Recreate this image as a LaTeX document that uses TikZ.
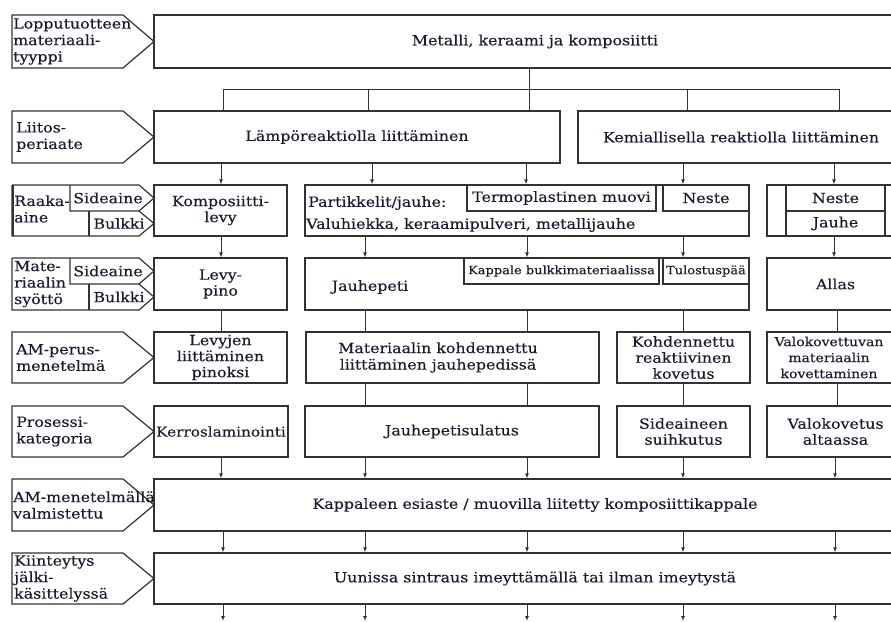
\documentclass[tikz,border=0pt]{standalone}
\usepackage{fontspec}
\setmainfont{DejaVu Serif}[FakeStretch=1.13, FakeBold=0.3]
\usetikzlibrary{arrows.meta}
\usetikzlibrary{positioning}

\definecolor{linec}{RGB}{50,50,50}
\definecolor{txtc}{RGB}{24,28,48}

\tikzset{
    box/.style={draw=linec, line width=1.2pt, inner sep=0pt, align=center,
        text=txtc, font=\fontsize{14}{16}\selectfont},
    smallbox/.style={box, font=\fontsize{11.5}{14}\selectfont},
    txt/.style={inner sep=0pt, align=left, text=txtc,
        font=\fontsize{14}{16.5}\selectfont},
    arr/.style={draw=linec, line width=1pt, -{Latex[length=5pt,width=4pt]}},
    conn/.style={draw=linec, line width=1pt},
    lbl/.style={draw=linec, line width=1.2pt}
}

\begin{document}
\begin{tikzpicture}[x=1pt, y=-1pt]
    \useasboundingbox (0,0) rectangle (891,621);
    \clip (0,0) rectangle (891,621);

    % left side labels
    \foreach \ya/\yb in {15/68, 111/163, 332/383, 406/457, 479/531, 553/604}
        \draw[lbl] (12,\ya) -- (123,\ya) -- (154,{(\ya+\yb)/2}) -- (123,\yb) -- (12,\yb) -- cycle;
    \foreach \ya/\ym/\yb in {185/211/236, 258/284/310} {
        \draw[lbl] (12,\ya) -- (139,\ya) -- (154,{(\ya+\ym)/2}) -- (139,\ym) -- (70,\ym) -- (70,\ya);
        \draw[lbl] (12,\ya) -- (12,\yb) -- (139,\yb) -- (154,{(\ym+\yb)/2}) -- (139,\ym);
        \draw[lbl] (89,\ym) -- (89,\yb);
    }
    \draw[lbl, line width=2pt] (12.5,185) -- (12.5,236);
    \node[txt, anchor=west] (l1) at (13,41.5) {Lopputuotteen\\materiaali-\\tyyppi};
    \node[txt, anchor=west] (l2) at (16,137) {Liitos-\\periaate};
    \node[txt, anchor=west] (l3) at (14,209) {Raaka-\\aine};
    \node[txt] (l3a) at (108,198) {Sideaine};
    \node[txt] (l3b) at (119,223.5) {Bulkki};
    \node[txt, anchor=west] (l4) at (14,284) {Mate-\\riaalin\\syöttö};
    \node[txt] (l4a) at (108,271) {Sideaine};
    \node[txt] (l4b) at (119,297) {Bulkki};
    \node[txt, anchor=west] (l5) at (16,357.5) {AM-perus-\\menetelmä};
    \node[txt, anchor=west] (l6) at (16,431.5) {Prosessi-\\kategoria};
    \node[txt, anchor=west] (l7) at (13,505) {AM-menetelmällä\\valmistettu};
    \node[txt, anchor=west] (l8) at (14,578.5) {Kiinteytys\\jälki-\\käsittelyssä};

    % boxes
    \node[box, minimum width=762pt, minimum height=53pt] (top) at (535,41.5) {Metalli, keraami ja komposiitti};
    \node[box, minimum width=406pt, minimum height=52pt] (lampo) at (357,137) {Lämpöreaktiolla liittäminen};
    \node[box, minimum width=326pt, minimum height=52pt] (kemia) at (741,137) {Kemiallisella reaktiolla liittäminen};

    \node[box, minimum width=133pt, minimum height=51pt] (komp) at (220.5,210.5) {Komposiitti-\\levy};
    \node[box, minimum width=444pt, minimum height=51pt] (part) at (527,210.5) {};
    \node[box, minimum width=189pt, minimum height=26pt] (termo) at (561.5,198) {Termoplastinen muovi};
    \node[box, minimum width=86pt, minimum height=26pt] (neste) at (706,198) {Neste};
    \node[txt, anchor=west] (parta) at (308,203) {Partikkelit/jauhe:};
    \node[txt, anchor=west] (partb) at (306,225) {Valuhiekka, keraamipulveri, metallijauhe};
    \node[box, minimum width=137pt, minimum height=51pt] (rcol) at (835.5,210.5) {};
    \node[box, minimum width=99pt, minimum height=26pt] (rneste) at (835.5,198) {Neste};
    \node[box, minimum width=99pt, minimum height=25pt] (rjauhe) at (835.5,223.5) {Jauhe};

    \node[box, minimum width=133pt, minimum height=52pt] (levy) at (220.5,284) {Levy-\\pino};
    \node[box, minimum width=444pt, minimum height=52pt] (jpeti) at (527,284) {};
    \node[txt] (jpetitxt) at (370,287) {Jauhepeti};
    \node[smallbox, minimum width=195pt, minimum height=26pt] (kapp) at (561.5,271) {Kappale bulkkimateriaalissa};
    \node[smallbox, minimum width=86pt, minimum height=26pt] (tulos) at (706,271) {Tulostuspää};
    \node[box, minimum width=137pt, minimum height=52pt] (allas) at (835.5,284) {Allas};

    \node[box, minimum width=133pt, minimum height=51pt] (levyjen) at (220.5,357.5) {Levyjen\\liittäminen\\pinoksi};
    \node[box, minimum width=293pt, minimum height=51pt] (mater) at (452.5,357.5) {};
    \node[txt, align=center] (matertxt) at (438,357.5) {Materiaalin kohdennettu\\liittäminen jauhepedissä};
    \node[box, minimum width=133pt, minimum height=51pt] (kohd) at (683.5,357.5) {Kohdennettu\\reaktiivinen\\kovetus};
    \node[box, minimum width=137pt, minimum height=51pt] (valok) at (835.5,357.5) {};
    \node[txt, align=center, font=\fontsize{12.4}{16}\selectfont] (valoktxt) at (829,357.5) {Valokovettuvan\\materiaalin\\kovettaminen};

    \node[box, minimum width=134pt, minimum height=51pt, font=\fontsize{13.5}{16}\selectfont] (kerros) at (221,431.5) {Kerroslaminointi};
    \node[box, minimum width=294pt, minimum height=51pt] (jps) at (452,431.5) {Jauhepetisulatus};
    \node[box, minimum width=133pt, minimum height=51pt] (sidea) at (683.5,431.5) {Sideaineen\\suihkutus};
    \node[box, minimum width=137pt, minimum height=51pt] (valkov) at (835.5,431.5) {Valokovetus\\altaassa};

    \node[box, minimum width=762pt, minimum height=52pt] (esiaste) at (535,505) {Kappaleen esiaste / muovilla liitetty komposiittikappale};
    \node[box, minimum width=762pt, minimum height=51pt] (sintr) at (535,578.5) {Uunissa sintraus imeyttämällä tai ilman imeytystä};

    % connectors
    \coordinate (bus) at (529,89);
    \coordinate (out) at (0,621);
    \draw[conn] (top.south -| bus) -- (bus);
    \draw[conn] (bus -| 223,0) -- (bus -| 839,0);
    \foreach \x in {223,368,529}
        \draw[conn] (bus -| \x,0) -- (lampo.north -| \x,0);
    \foreach \x in {687,839}
        \draw[conn] (bus -| \x,0) -- (kemia.north -| \x,0);

    \draw[arr] (lampo.south -| 221,0) -- (komp.north -| 221,0);
    \foreach \x in {372,526}
        \draw[arr] (lampo.south -| \x,0) -- (part.north -| \x,0);
    \draw[arr] (kemia.south -| 683,0) -- (neste.north -| 683,0);
    \draw[arr] (kemia.south -| 834,0) -- (rcol.north -| 834,0);

    \draw[arr] (komp.south -| 221,0) -- (levy.north -| 221,0);
    \foreach \x in {365,527,683}
        \draw[arr] (part.south -| \x,0) -- (jpeti.north -| \x,0);
    \draw[arr] (rcol.south -| 834,0) -- (allas.north -| 834,0);

    \draw[conn] (levy.south -| 221,0) -- (levyjen.north -| 221,0);
    \foreach \x in {365,527}
        \draw[conn] (jpeti.south -| \x,0) -- (mater.north -| \x,0);
    \draw[conn] (jpeti.south -| 683,0) -- (kohd.north -| 683,0);
    \draw[conn] (allas.south -| 837,0) -- (valok.north -| 837,0);

    \foreach \x in {365,527}
        \draw[conn] (mater.south -| \x,0) -- (jps.north -| \x,0);
    \draw[conn] (kohd.south -| 683,0) -- (sidea.north -| 683,0);
    \draw[conn] (valok.south -| 837,0) -- (valkov.north -| 837,0);

    \draw[arr] (kerros.south -| 221,0) -- (esiaste.north -| 221,0);
    \foreach \x in {365,527}
        \draw[arr] (jps.south -| \x,0) -- (esiaste.north -| \x,0);
    \draw[arr] (sidea.south -| 683,0) -- (esiaste.north -| 683,0);
    \draw[arr] (valkov.south -| 835,0) -- (esiaste.north -| 835,0);

    \foreach \x in {223,365,527,683,835} {
        \draw[arr] (esiaste.south -| \x,0) -- (sintr.north -| \x,0);
        \draw[arr] (sintr.south -| \x,0) -- (out -| \x,0);
    }
\end{tikzpicture}
\end{document}
